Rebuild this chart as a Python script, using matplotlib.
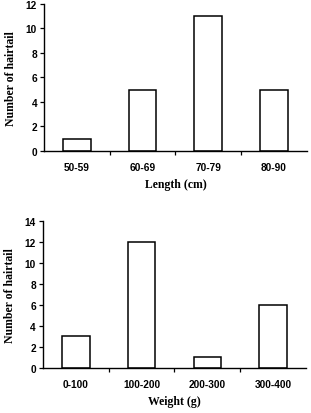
import matplotlib.pyplot as plt
import numpy as np

# Hairtail counts by length and weight class
length_classes = ['50-59', '60-69', '70-79', '80-90']
length_counts = [1, 5, 11, 5]
weight_classes = ['0-100', '100-200', '200-300', '300-400']
weight_counts = [3, 12, 1, 6]

tick_font = {'family': 'Liberation Sans', 'weight': 'bold', 'size': 7.3}
label_font = {'family': 'Liberation Serif', 'weight': 'bold', 'size': 8.5}

fig = plt.figure(figsize=(3.11, 4.14), dpi=100)
ax1 = fig.add_axes([0.1415, 0.633, 0.845, 0.355])
ax2 = fig.add_axes([0.138, 0.109, 0.846, 0.355])


def draw(ax, cats, counts, ymax, xlabel):
    x = np.arange(len(cats))
    ax.bar(x, counts, width=0.42, color='white', edgecolor='black', linewidth=1.1)
    ax.set_xlim(-0.5, len(cats) - 0.5)
    ax.set_ylim(0, ymax)
    ax.set_yticks(range(0, ymax + 1, 2))
    ax.set_yticklabels([str(v) for v in range(0, ymax + 1, 2)], fontdict=tick_font)
    ax.set_xticks(x)
    ax.set_xticklabels(cats, fontdict=tick_font)
    ax.set_xticks(x[:-1] + 0.5, minor=True)
    ax.tick_params(axis='x', which='major', length=0, pad=8)
    ax.tick_params(axis='x', which='minor', length=3, width=0.9, direction='out')
    ax.tick_params(axis='y', length=3, width=0.9, direction='out', pad=2)
    for s in ['top', 'right']:
        ax.spines[s].set_visible(False)
    for s in ['left', 'bottom']:
        ax.spines[s].set_linewidth(1.0)
    ax.set_xlabel(xlabel, fontdict=label_font, labelpad=4)
    ax.set_ylabel('Number of hairtail', fontdict=label_font, labelpad=6)


draw(ax1, length_classes, length_counts, 12, 'Length (cm)')
draw(ax2, weight_classes, weight_counts, 14, 'Weight (g)')

fig.savefig('out.png', dpi=100)
